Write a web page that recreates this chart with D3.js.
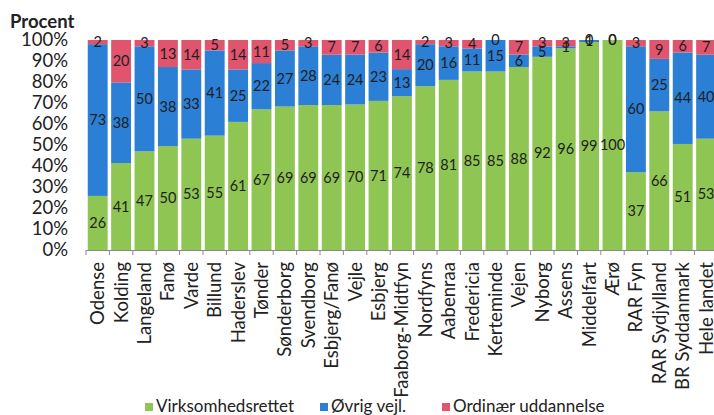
<!DOCTYPE html>
<html>
<head>
<meta charset="utf-8">
<script src="https://cdn.jsdelivr.net/npm/d3@7"></script>
<style>
  html, body { margin: 0; padding: 0; background: #ffffff; }
  svg { display: block; font-family: Lato, "Open Sans", sans-serif; }
</style>
</head>
<body>
<svg id="chart" width="714" height="415"></svg>
<script>
const categories = ["Odense","Kolding","Langeland","Fanø","Varde","Billund","Haderslev","Tønder","Sønderborg","Svendborg","Esbjerg/Fanø","Vejle","Esbjerg","Faaborg-Midtfyn","Nordfyns","Aabenraa","Fredericia","Kerteminde","Vejen","Nyborg","Assens","Middelfart","Ærø","RAR Fyn","RAR Sydjylland","BR Syddanmark","Hele landet"];
const virksomhedsrettet = [26,41,47,50,53,55,61,67,69,69,69,70,71,74,78,81,85,85,88,92,96,99,100,37,66,51,53];
const oevrigVejl = [73,38,50,38,33,41,25,22,27,28,24,24,23,13,20,16,11,15,6,5,1,1,0,60,25,44,40];
const ordinaer = [2,20,3,13,14,5,14,11,5,3,7,7,6,14,2,3,4,0,7,3,3,0,0,3,9,6,7];
const seriesNames = ["Virksomhedsrettet","Øvrig vejl.","Ordinær uddannelse"];
const yTicks = [0,0.1,0.2,0.3,0.4,0.5,0.6,0.7,0.8,0.9,1];
const colors = ["#8fc552","#2b7fd4","#e0546e"];

const rows = categories.map((c,i) => ({
  cat: c,
  "Virksomhedsrettet": virksomhedsrettet[i],
  "Øvrig vejl.": oevrigVejl[i],
  "Ordinær uddannelse": ordinaer[i]
}));

const svg = d3.select("#chart");
const x = d3.scaleBand().domain(categories).range([86, 717.8]).paddingInner(0.15).paddingOuter(0.075);
const y = d3.scaleLinear().domain([0,1]).range([250, 40]);
const color = d3.scaleOrdinal().domain(seriesNames).range(colors);

const stacked = d3.stack().keys(seriesNames).offset(d3.stackOffsetExpand)(rows);

// bars
const g = svg.append("g");
stacked.forEach(s => {
  g.selectAll(null).data(s).enter().append("rect")
    .attr("x", d => x(d.data.cat))
    .attr("width", x.bandwidth())
    .attr("y", d => y(d[1]))
    .attr("height", d => Math.max(0, y(d[0]) - y(d[1])))
    .attr("fill", color(s.key));
});

// data labels
stacked.forEach(s => {
  g.selectAll(null).data(s).enter().append("text")
    .attr("x", d => x(d.data.cat) + x.bandwidth()/2)
    .attr("y", d => y((d[0]+d[1])/2))
    .attr("dy", "0.35em")
    .attr("text-anchor", "middle")
    .attr("font-size", 14.5)
    .attr("fill", "#1e1e1e")
    .text(d => d.data[s.key]);
});

// y axis labels
svg.append("g")
  .selectAll("text").data(yTicks).enter().append("text")
  .attr("x", 68).attr("y", d => y(d)).attr("dy", "0.35em")
  .attr("text-anchor", "end").attr("font-size", 18.5).attr("fill", "#222")
  .text(d => d3.format(".0%")(d));

// x axis
const step = x.step();
const xAxis = svg.append("g");
xAxis.append("line").attr("x1", 86).attr("x2", 717.8).attr("y1", 250.5).attr("y2", 250.5)
  .attr("stroke", "#8a8a8a").attr("stroke-width", 1);
xAxis.selectAll("line.tick").data(categories.concat(["__end"])).enter().append("line")
  .attr("class", "tick")
  .attr("x1", (d,i) => 86 + i*step).attr("x2", (d,i) => 86 + i*step)
  .attr("y1", 250).attr("y2", 255)
  .attr("stroke", "#8a8a8a");
xAxis.selectAll("text").data(categories).enter().append("text")
  .attr("transform", d => `translate(${x(d) + x.bandwidth()/2},262) rotate(-90)`)
  .attr("text-anchor", "end").attr("dy", "0.35em")
  .attr("font-size", 18.5).attr("fill", "#222")
  .text(d => d);

// title
svg.append("text").attr("x", 10).attr("y", 28).attr("font-size", 18.5).attr("font-weight", "bold")
  .attr("fill", "#222").text("Procent");

// legend
const legendX = [145, 320, 442];
const lg = svg.append("g");
seriesNames.forEach((n,i) => {
  lg.append("rect").attr("x", legendX[i]).attr("y", 403).attr("width", 8).attr("height", 8).attr("fill", colors[i]);
  lg.append("text").attr("x", legendX[i] + 11).attr("y", 412).attr("font-size", 17).attr("fill", "#222").text(n);
});
</script>
</body>
</html>
